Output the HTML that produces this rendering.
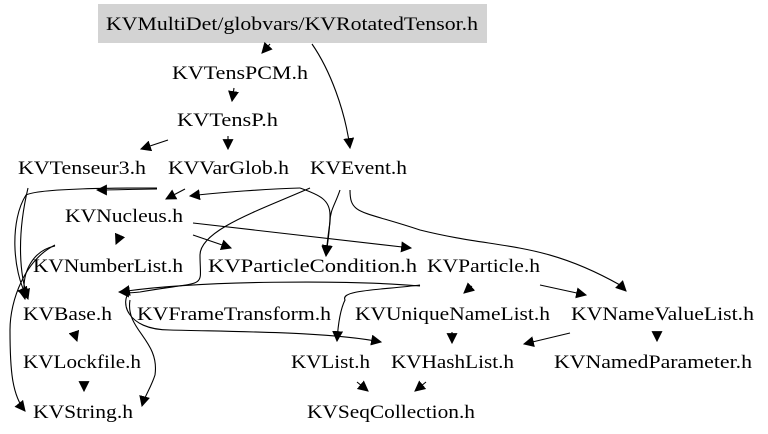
<!DOCTYPE html>
<html><head><meta charset="utf-8"><style>
html,body{margin:0;padding:0;background:#fff;}
svg{display:block;}
text{font-family:"Liberation Serif","DejaVu Serif",serif;font-size:19px;fill:#000;}
path{fill:none;stroke:#000;stroke-width:1.1;}
</style></head><body>
<svg width="768" height="434" viewBox="0 0 768 434" xmlns="http://www.w3.org/2000/svg">
<defs><marker id="a" viewBox="0 0 10 10" refX="9" refY="5" markerWidth="11" markerHeight="11" markerUnits="userSpaceOnUse" orient="auto"><path d="M0,0 L10,5 L0,10 z" style="fill:#000;stroke:none"/></marker></defs>
<rect x="98" y="4" width="389" height="39" fill="#d3d3d3"/>
<g>
<text x="106" y="30" textLength="372" lengthAdjust="spacingAndGlyphs">KVMultiDet/globvars/KVRotatedTensor.h</text>
<text x="172" y="79" textLength="136" lengthAdjust="spacingAndGlyphs">KVTensPCM.h</text>
<text x="177" y="126" textLength="101" lengthAdjust="spacingAndGlyphs">KVTensP.h</text>
<text x="18" y="174" textLength="128" lengthAdjust="spacingAndGlyphs">KVTenseur3.h</text>
<text x="168" y="174" textLength="121" lengthAdjust="spacingAndGlyphs">KVVarGlob.h</text>
<text x="310" y="174" textLength="97" lengthAdjust="spacingAndGlyphs">KVEvent.h</text>
<text x="65" y="222" textLength="118" lengthAdjust="spacingAndGlyphs">KVNucleus.h</text>
<text x="33" y="272" textLength="150" lengthAdjust="spacingAndGlyphs">KVNumberList.h</text>
<text x="208" y="272" textLength="209" lengthAdjust="spacingAndGlyphs">KVParticleCondition.h</text>
<text x="427" y="272" textLength="113" lengthAdjust="spacingAndGlyphs">KVParticle.h</text>
<text x="23" y="320" textLength="89" lengthAdjust="spacingAndGlyphs">KVBase.h</text>
<text x="137" y="320" textLength="194" lengthAdjust="spacingAndGlyphs">KVFrameTransform.h</text>
<text x="355" y="320" textLength="195" lengthAdjust="spacingAndGlyphs">KVUniqueNameList.h</text>
<text x="571" y="320" textLength="183" lengthAdjust="spacingAndGlyphs">KVNameValueList.h</text>
<text x="23" y="368" textLength="118" lengthAdjust="spacingAndGlyphs">KVLockfile.h</text>
<text x="291" y="368" textLength="79" lengthAdjust="spacingAndGlyphs">KVList.h</text>
<text x="391" y="368" textLength="123" lengthAdjust="spacingAndGlyphs">KVHashList.h</text>
<text x="554" y="368" textLength="198" lengthAdjust="spacingAndGlyphs">KVNamedParameter.h</text>
<text x="33" y="418" textLength="100" lengthAdjust="spacingAndGlyphs">KVString.h</text>
<text x="307" y="418" textLength="168" lengthAdjust="spacingAndGlyphs">KVSeqCollection.h</text>
</g>
<g marker-end="url(#a)">
<path d="M270,44 L262,53"/>
<path d="M312,44 C330,70 345,110 350,148"/>
<path d="M234,88 L232,101"/>
<path d="M168,140 L141,149"/>
<path d="M228,136 L228,149"/>
<path d="M157,188 C120,188 40,188 26,195 C10,220 12,270 27,297"/>
<path d="M157,189 C140,189 115,190 97,190"/>
<path d="M28,188 C18,230 18,270 28,299"/>
<path d="M185,189 L166,199"/>
<path d="M300,188 C270,189 220,192 190,196"/>
<path d="M310,188 C260,210 200,230 200,255 C200,290 210,280 140,292 C120,294 130,292 119,292"/>
<path d="M300,188 C320,195 330,200 330,215 C330,230 328,240 326,255"/>
<path d="M350,190 C350,215 360,210 420,230 C500,250 540,240 620,285 L626,291"/>
<path d="M340,190 C335,205 330,210 330,222 C328,235 327,245 326,256"/>
<path d="M55,245 C25,260 10,300 10,330 C10,370 12,395 25,411"/>
<path d="M193,223 L411,248"/>
<path d="M193,235 L231,248"/>
<path d="M120,235 L116,244"/>
<path d="M55,246 C35,250 20,270 25,299"/>
<path d="M420,285 C380,290 340,290 345,300 C340,310 338,325 337,341"/>
<path d="M420,286 C350,280 200,280 120,292"/>
<path d="M130,292 C120,300 125,330 170,330 C250,332 330,332 381,342"/>
<path d="M130,300 C125,330 160,340 155,375 C150,390 145,395 142,406"/>
<path d="M472,286 L464,293"/>
<path d="M540,285 L586,295"/>
<path d="M74,332 L77,341"/>
<path d="M84,382 L84,391"/>
<path d="M452,332 L452,343"/>
<path d="M570,333 L524,344"/>
<path d="M657,332 L657,341"/>
<path d="M357,382 L368,391"/>
<path d="M426,382 L415,391"/>
</g>
</svg>
</body></html>
